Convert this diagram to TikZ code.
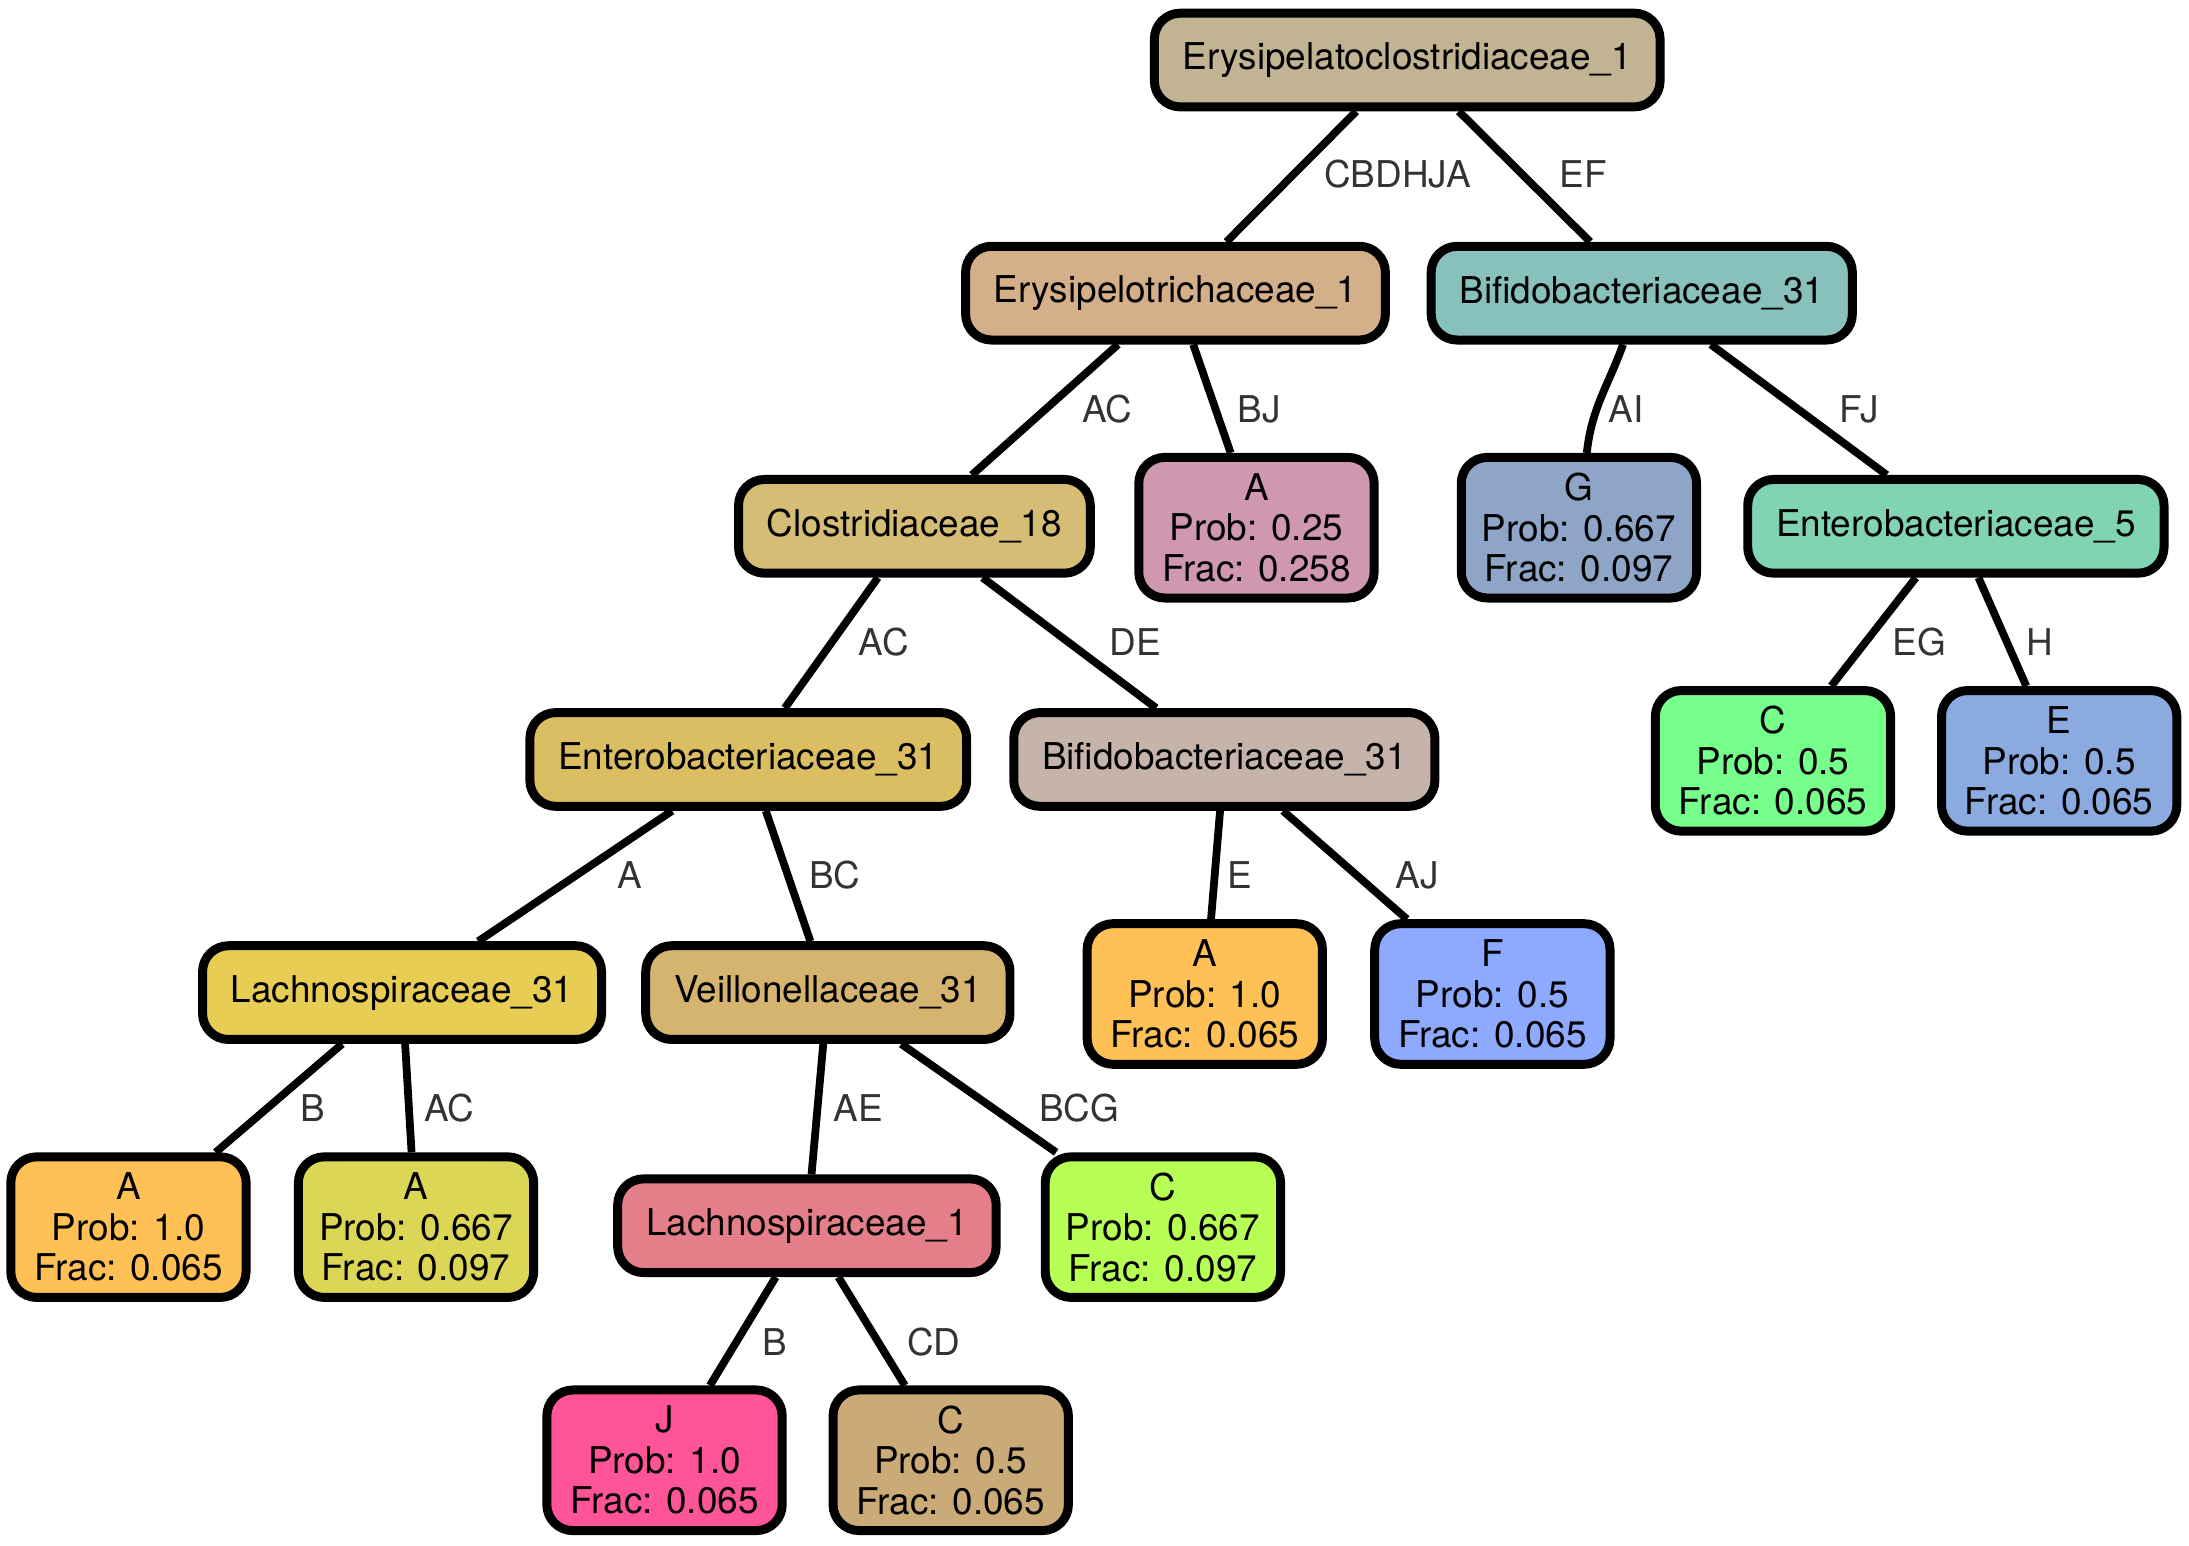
\documentclass[tikz,border=0pt]{standalone}
\usepackage{fontspec}
\setmainfont{TeX Gyre Heros}

\definecolor{labelgray}{HTML}{333333}
\definecolor{cRoot}{HTML}{C2B393}
\definecolor{cEry}{HTML}{D4B08A}
\definecolor{cBifA}{HTML}{88C0BC}
\definecolor{cClo}{HTML}{D6BD75}
\definecolor{cAq}{HTML}{CF98B0}
\definecolor{cG}{HTML}{8EA5C7}
\definecolor{cEntFive}{HTML}{80D4B4}
\definecolor{cEntTO}{HTML}{DCBE62}
\definecolor{cBifB}{HTML}{C6B4AA}
\definecolor{cCgreen}{HTML}{76FF8A}
\definecolor{cE}{HTML}{8BAAE0}
\definecolor{cLacTO}{HTML}{E8CD54}
\definecolor{cVei}{HTML}{D4B46E}
\definecolor{cAorange}{HTML}{FFC156}
\definecolor{cF}{HTML}{8DAAFF}
\definecolor{cAolive}{HTML}{DCD656}
\definecolor{cLacOne}{HTML}{E47E88}
\definecolor{cClime}{HTML}{B7FF55}
\definecolor{cJ}{HTML}{FF5598}
\definecolor{cCtan}{HTML}{CAAA77}

\begin{document}
\begin{tikzpicture}[x=0.7pt,y=0.7pt,
  base/.style={draw=black, line width=4.5pt, rounded corners=13pt,
    font=\fontsize{18.5}{20.3}\selectfont, text=black},
  inode/.style={base, minimum height=47pt, inner xsep=14.2pt, inner ysep=0pt},
  leaf/.style={base, minimum width=118pt, minimum height=70.5pt, align=center, inner sep=0pt},
  link/.style={line width=3.9pt, draw=black},
  elabel/.style={font=\fontsize{18.5}{20.3}\selectfont, text=labelgray, inner sep=1pt}]

\useasboundingbox (0,0) rectangle (1568,-1107);

% internal nodes
\node[inode, fill=cRoot]    (root)  at (1008,-43)  {Erysipelatoclostridiaceae\_1};
\node[inode, fill=cEry]     (ery)   at (842,-210)  {Erysipelotrichaceae\_1};
\node[inode, fill=cBifA]    (bifa)  at (1176,-210) {Bifidobacteriaceae\_31};
\node[inode, fill=cClo]     (clo)   at (655,-377)  {Clostridiaceae\_18};
\node[inode, fill=cEntFive] (entf)  at (1401,-377) {Enterobacteriaceae\_5};
\node[inode, fill=cEntTO]   (ento)  at (536,-544)  {Enterobacteriaceae\_31};
\node[inode, fill=cBifB]    (bifb)  at (877,-544)  {Bifidobacteriaceae\_31};
\node[inode, fill=cLacTO]   (lacto) at (288,-711)  {Lachnospiraceae\_31};
\node[inode, fill=cVei]     (vei)   at (593,-711)  {Veillonellaceae\_31};
\node[inode, fill=cLacOne]  (lacone) at (578,-878) {Lachnospiraceae\_1};

% leaves
\node[leaf, fill=cAq]      (aq)     at (900,-378)  {A\\Prob: 0.25\\Frac: 0.258};
\node[leaf, fill=cG]       (g)      at (1131,-378) {G\\Prob: 0.667\\Frac: 0.097};
\node[leaf, fill=cCgreen]  (cgreen) at (1270,-545) {C\\Prob: 0.5\\Frac: 0.065};
\node[leaf, fill=cE]       (e)      at (1475,-545) {E\\Prob: 0.5\\Frac: 0.065};
\node[leaf, fill=cAorange] (amid)   at (863,-712)  {A\\Prob: 1.0\\Frac: 0.065};
\node[leaf, fill=cF]       (f)      at (1069,-712) {F\\Prob: 0.5\\Frac: 0.065};
\node[leaf, fill=cAorange] (aleft)  at (92,-879)   {A\\Prob: 1.0\\Frac: 0.065};
\node[leaf, fill=cAolive]  (aolive) at (298,-879)  {A\\Prob: 0.667\\Frac: 0.097};
\node[leaf, fill=cClime]   (clime)  at (833,-879)  {C\\Prob: 0.667\\Frac: 0.097};
\node[leaf, fill=cJ]       (j)      at (476,-1046) {J\\Prob: 1.0\\Frac: 0.065};
\node[leaf, fill=cCtan]    (ctan)   at (681,-1046) {C\\Prob: 0.5\\Frac: 0.065};

% connectors
\draw[link] (root) -- (ery);
\draw[link] (root) -- (bifa);
\draw[link] (ery) -- (clo);
\draw[link] (ery) -- (aq);
\draw[link] (bifa) to[out=250,in=84] (g);
\draw[link] (bifa) -- (entf);
\draw[link] (clo) -- (ento);
\draw[link] (clo) -- (bifb);
\draw[link] (entf) -- (cgreen);
\draw[link] (entf) -- (e);
\draw[link] (ento) -- (lacto);
\draw[link] (ento) -- (vei);
\draw[link] (bifb) -- (amid);
\draw[link] (bifb) -- (f);
\draw[link] (lacto) -- (aleft);
\draw[link] (lacto) -- (aolive);
\draw[link] (vei) -- (lacone);
\draw[link] (vei) -- (clime);
\draw[link] (lacone) -- (j);
\draw[link] (lacone) -- (ctan);

% connector labels
\node[elabel] (lCBDHJA) at (1001,-125) {CBDHJA};
\node[elabel] (lEF)     at (1134,-125) {EF};
\node[elabel] (lACa)    at (793,-293)  {AC};
\node[elabel] (lBJ)     at (902,-293)  {BJ};
\node[elabel] (lAI)     at (1165,-293) {AI};
\node[elabel] (lFJ)     at (1332,-293) {FJ};
\node[elabel] (lACb)    at (633,-460)  {AC};
\node[elabel] (lDE)     at (813,-460)  {DE};
\node[elabel] (lEG)     at (1375,-460) {EG};
\node[elabel] (lH)      at (1461,-460) {H};
\node[elabel] (lA)      at (451,-627)  {A};
\node[elabel] (lBC)     at (598,-627)  {BC};
\node[elabel] (lE)      at (888,-627)  {E};
\node[elabel] (lAJ)     at (1015,-627) {AJ};
\node[elabel] (lBa)     at (224,-794)  {B};
\node[elabel] (lACc)    at (322,-794)  {AC};
\node[elabel] (lAE)     at (615,-794)  {AE};
\node[elabel] (lBCG)    at (773,-794)  {BCG};
\node[elabel] (lBb)     at (555,-961)  {B};
\node[elabel] (lCD)     at (669,-961)  {CD};
\end{tikzpicture}
\end{document}
